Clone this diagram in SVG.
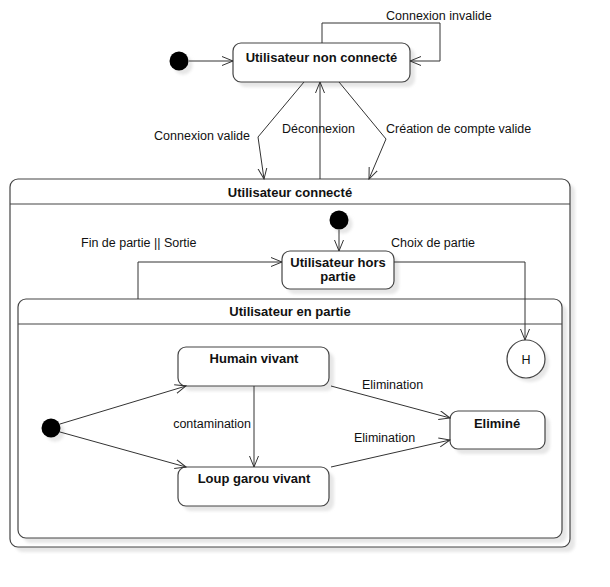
<svg xmlns="http://www.w3.org/2000/svg" width="610" height="587" viewBox="0 0 610 587">
<style>
.st{fill:#fff;stroke:#444;stroke-width:1.2}
.sh{fill:#e6e6e6;filter:url(#blur)}
.dot{fill:#000}
.hd{stroke:#444;stroke-width:1.2}
.c{fill:none;stroke:#333;stroke-width:1;marker-end:url(#arr)}
.t{font-family:"Liberation Sans",Arial,sans-serif;font-size:12.5px;fill:#111}
.b{font-family:"Liberation Sans",Arial,sans-serif;font-size:13px;font-weight:bold;fill:#111;text-anchor:middle}
</style>
<defs>
<filter id="blur" x="-10%" y="-10%" width="120%" height="120%"><feGaussianBlur stdDeviation="1.5"/></filter>
<marker id="arr" markerUnits="userSpaceOnUse" markerWidth="12" markerHeight="12" refX="11" refY="5" orient="auto"><path d="M0,0.5 L11,5 L0,9.5" fill="none" stroke="#333" stroke-width="1"/></marker>
</defs>
<rect width="610" height="587" fill="#fff"/>

<g id="utilisateur-connecte">
<rect class="sh" x="15" y="184" width="560" height="368" rx="8"/>
<rect class="st" x="10" y="179" width="560" height="368" rx="8"/>
<line class="hd" x1="10" y1="204" x2="570" y2="204"/>
<text class="b" x="290" y="197">Utilisateur connecté</text>
</g>

<g id="utilisateur-en-partie">
<rect class="sh" x="23" y="304" width="544" height="239" rx="8"/>
<rect class="st" x="18" y="299" width="544" height="239" rx="8"/>
<line class="hd" x1="18" y1="324" x2="562" y2="324"/>
<text class="b" x="290" y="316">Utilisateur en partie</text>
</g>

<g id="init1">
<circle class="sh" cx="183" cy="65" r="9.5"/>
<circle class="dot" cx="179" cy="61" r="9.5"/>
</g>

<g id="utilisateur-non-connecte">
<rect class="sh" x="238" y="48" width="177" height="39" rx="8"/>
<rect class="st" x="233" y="43" width="177" height="39" rx="8"/>
<text class="b" x="321.5" y="62">Utilisateur non connecté</text>
</g>

<g id="init2">
<circle class="sh" cx="343" cy="224" r="9.5"/>
<circle class="dot" cx="339" cy="220" r="9.5"/>
</g>

<g id="utilisateur-hors-partie">
<rect class="sh" x="287" y="256" width="112" height="38" rx="8"/>
<rect class="st" x="282" y="251" width="112" height="38" rx="8"/>
<text class="b" x="338" y="267">Utilisateur hors</text>
<text class="b" x="338" y="281">partie</text>
</g>

<g id="historique">
<circle class="sh" cx="530" cy="363" r="19"/>
<circle class="st" cx="526" cy="359" r="19"/>
<text class="t" x="526" y="364" text-anchor="middle">H</text>
</g>

<g id="init3">
<circle class="sh" cx="55" cy="432" r="9.5"/>
<circle class="dot" cx="51" cy="428" r="9.5"/>
</g>

<g id="humain-vivant">
<rect class="sh" x="183" y="352" width="151" height="39" rx="8"/>
<rect class="st" x="178" y="347" width="151" height="39" rx="8"/>
<text class="b" x="254" y="363">Humain vivant</text>
</g>

<g id="elimine">
<rect class="sh" x="455" y="416" width="95" height="38" rx="8"/>
<rect class="st" x="450" y="411" width="95" height="38" rx="8"/>
<text class="b" x="497" y="428">Eliminé</text>
</g>

<g id="loup-garou-vivant">
<rect class="sh" x="183" y="472" width="151" height="39" rx="8"/>
<rect class="st" x="178" y="467" width="151" height="39" rx="8"/>
<text class="b" x="254" y="483">Loup garou vivant</text>
</g>

<g id="connectors">
<path class="c" d="M189,61 H233"/>
<path class="c" d="M322,43 V23 H440 V61 H410"/>
<path class="c" d="M304,82 L258,137 L264,179"/>
<path class="c" d="M320,179 V82"/>
<path class="c" d="M339,82 L386,139 L369,179"/>
<path class="c" d="M339,230 V251"/>
<path class="c" d="M138,299 V262 H282"/>
<path class="c" d="M394,262 H525 V340"/>
<path class="c" d="M60,424 L186,386"/>
<path class="c" d="M60,432 L186,467"/>
<path class="c" d="M254,386 V467"/>
<path class="c" d="M331,386 L450,418"/>
<path class="c" d="M331,467 L450,440"/>
<text class="t" x="386" y="20">Connexion invalide</text>
<text class="t" x="250" y="140" text-anchor="end">Connexion valide</text>
<text class="t" x="282" y="133">Déconnexion</text>
<text class="t" x="386" y="133">Création de compte valide</text>
<text class="t" x="81" y="247">Fin de partie || Sortie</text>
<text class="t" x="391" y="247">Choix de partie</text>
<text class="t" x="362" y="389">Elimination</text>
<text class="t" x="251" y="428" text-anchor="end">contamination</text>
<text class="t" x="354" y="442">Elimination</text>
</g>
</svg>
